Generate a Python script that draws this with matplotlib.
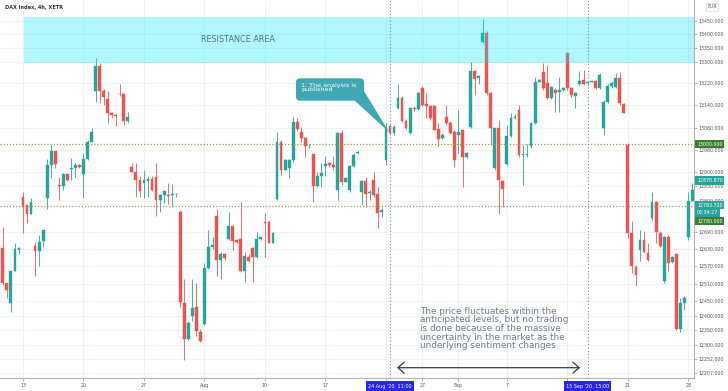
import numpy as np
import pandas as pd
import matplotlib
matplotlib.use('Agg')
import matplotlib.pyplot as plt
from matplotlib.patches import FancyBboxPatch, Polygon, Rectangle
from matplotlib.transforms import IdentityTransform
from matplotlib.ticker import FixedLocator, NullLocator, FuncFormatter, NullFormatter

# DAX 4h bars on XETR, three bars per trading day (last bar of 28 Sep still open)
days = pd.bdate_range('2020-07-09', '2020-09-28')
bar_times = [d + pd.Timedelta(hours=h) for d in days for h in (7, 11, 15)][:-1]

opens = [12640, 12635, 12511, 12442, 12553, 12628,
         12813, 12785, 12753, 12641, 12624, 12658, 12810, 12926, 12977, 12855,
         12851, 12893, 12913, 12914, 12926, 12894, 12946, 13010, 13194, 13284,
         13194, 13162, 13114, 13106, 13183, 13181, 13084, 12918, 12902, 12873,
         12863, 12870, 12876, 12884, 12802, 12820, 12820, 12818, 12822, 12761,
         12444, 12320, 12399, 12428, 12343, 12373, 12563, 12638, 12746, 12592,
         12613, 12664, 12710, 12660, 12664, 12553, 12603, 12632, 12603, 12664,
         12726, 12726, 12652, 12804, 13010, 12910, 12914, 12943, 13082, 13046,
         13021, 12993, 12964, 12851, 12887, 12922, 12932, 12926, 12837, 13040,
         12867, 12837, 12922, 12968, 12829, 12870, 12828, 12874, 12822, 12760,
         12943, 13066, 13040, 13130, 13166, 13085, 13040, 13130, 13127, 13203,
         13145, 13139, 13137, 13054, 13021, 13100, 13078, 13046, 13034, 13050,
         12955, 13063, 13264, 13239, 13374, 13407, 13185, 12914, 13058, 12870,
         12929, 13031, 13094, 13124, 12962, 12962, 12993, 13076, 13227, 13261,
         13221, 13168, 13197, 13190, 13197, 13330, 13203, 13174, 13219, 13233,
         13221, 13227, 13230, 13203, 13058, 13153, 13210, 13207, 13239, 13145,
         12998, 12687, 12569, 12627, 12662, 12617, 12738, 12796, 12687, 12520,
         12673, 12584, 12613, 12354, 12445, 12673, 12800]
highs = [12646, 12708, 12511, 12553, 12650, 12638,
         12831, 12785, 12808, 12656, 12679, 12697, 12946, 12998, 12977, 12884,
         12898, 12896, 12952, 12932, 12929, 12968, 13016, 13058, 13312, 13294,
         13199, 13191, 13118, 13112, 13217, 13185, 13118, 12932, 12932, 12887,
         12908, 12887, 12887, 12932, 12823, 12837, 12861, 12859, 12827, 12765,
         12525, 12380, 12525, 12511, 12354, 12581, 12697, 12673, 12769, 12620,
         12616, 12758, 12713, 12664, 12796, 12620, 12613, 12638, 12691, 12676,
         12756, 12730, 12691, 13046, 13016, 12949, 12949, 13100, 13094, 13062,
         13025, 13000, 12966, 12902, 12935, 12958, 12938, 12958, 13046, 13052,
         12884, 12926, 12968, 12977, 12873, 12884, 12837, 12902, 12849, 12772,
         13076, 13076, 13070, 13219, 13174, 13090, 13132, 13137, 13190, 13210,
         13187, 13142, 13142, 13076, 13040, 13142, 13085, 13051, 13123, 13052,
         12974, 13300, 13268, 13250, 13456, 13411, 13188, 13058, 13088, 12873,
         13070, 13112, 13108, 13142, 12998, 13000, 13082, 13245, 13236, 13294,
         13288, 13210, 13203, 13245, 13207, 13336, 13207, 13190, 13264, 13269,
         13230, 13232, 13233, 13257, 13160, 13219, 13228, 13257, 13261, 13148,
         13003, 12729, 12575, 12697, 12694, 12652, 12831, 12800, 12694, 12676,
         12680, 12606, 12617, 12462, 12467, 12831, 12861]
lows = [12630, 12505, 12459, 12414, 12553, 12613,
        12687, 12720, 12753, 12536, 12572, 12638, 12769, 12879, 12914, 12802,
        12837, 12870, 12873, 12884, 12914, 12808, 12944, 13010, 13153, 13148,
        13142, 13076, 13094, 13066, 13173, 13070, 13078, 12900, 12813, 12813,
        12808, 12811, 12835, 12746, 12761, 12792, 12788, 12778, 12813, 12431,
        12248, 12316, 12380, 12329, 12309, 12368, 12560, 12629, 12536, 12525,
        12592, 12660, 12627, 12652, 12550, 12517, 12586, 12517, 12600, 12660,
        12603, 12650, 12650, 12801, 12891, 12907, 12879, 12938, 13049, 13010,
        12954, 12988, 12796, 12848, 12848, 12887, 12920, 12910, 12802, 12855,
        12867, 12831, 12918, 12964, 12785, 12778, 12802, 12811, 12702, 12742,
        12926, 13037, 13033, 13127, 13082, 13054, 13037, 13120, 13124, 13137,
        13094, 13088, 13050, 12993, 13019, 13070, 13037, 12918, 12968, 12849,
        12952, 13060, 13178, 13218, 13370, 13178, 12998, 12910, 12753, 12778,
        12926, 13028, 13090, 12955, 12855, 12955, 12987, 13072, 13224, 13197,
        13162, 13164, 13118, 13118, 13194, 13197, 13172, 13132, 13216, 13216,
        13214, 13224, 13200, 13200, 13034, 13150, 13205, 13204, 13142, 13112,
        12667, 12546, 12502, 12590, 12617, 12590, 12732, 12650, 12638, 12513,
        12553, 12580, 12350, 12343, 12419, 12662, 12797]
closes = [12636, 12511, 12488, 12553, 12629, 12632,
          12778, 12753, 12796, 12624, 12656, 12695, 12926, 12977, 12929, 12851,
          12893, 12873, 12915, 12926, 12918, 12946, 13010, 13046, 13284, 13191,
          13171, 13114, 13105, 13102, 13181, 13085, 13100, 12902, 12873, 12835,
          12873, 12876, 12837, 12802, 12820, 12833, 12816, 12823, 12823, 12448,
          12320, 12376, 12425, 12346, 12312, 12563, 12638, 12644, 12592, 12613,
          12598, 12710, 12659, 12655, 12553, 12606, 12589, 12603, 12664, 12673,
          12722, 12652, 12687, 13010, 12910, 12943, 12943, 13082, 13054, 13021,
          12993, 12995, 12851, 12887, 12898, 12929, 12926, 12918, 13040, 12867,
          12879, 12922, 12961, 12974, 12870, 12823, 12830, 12820, 12756, 12767,
          13063, 13042, 13063, 13166, 13085, 13058, 13130, 13127, 13185, 13142,
          13137, 13094, 13052, 13019, 13034, 13076, 13042, 12943, 13046, 12955,
          12970, 13264, 13235, 13246, 13407, 13185, 13058, 13058, 12873, 12840,
          13031, 13094, 13100, 12961, 12966, 12966, 13076, 13227, 13233, 13203,
          13166, 13207, 13187, 13197, 13203, 13203, 13178, 13185, 13230, 13219,
          13224, 13230, 13203, 13251, 13153, 13210, 13221, 13239, 13148, 13114,
          12687, 12572, 12540, 12662, 12620, 12592, 12796, 12691, 12641, 12673,
          12581, 12603, 12354, 12442, 12462, 12800, 12837]

# axis labels (24 Aug and 14 Sep sit under the marker boxes, grid line only)
tick_days = ['2020-07-13', '2020-07-20', '2020-07-27', '2020-08-03', '2020-08-10', '2020-08-17',
             '2020-08-24', '2020-08-27', '2020-09-01', '2020-09-07', '2020-09-14', '2020-09-21', '2020-09-28']
tick_names = ['13', '20', '27', 'Aug', '10', '17', '', '27', 'Sep', '7', '', '21', '28']
price_ticks = [13450, 13400, 13350, 13300, 13220, 13140, 13060, 12980, 12900, 12850, 12800,
               12690, 12630, 12570, 12510, 12450, 12400, 12350, 12300, 12252, 12207]

resistance = (13295, 13465)
levels = [13000, 12780]
markers = [('2020-08-24 11:00', "24 Aug '20  11:00"), ('2020-09-15 15:00', "15 Sep '20  15:00")]
last_labels = [(12870.870, '12870.870'), (12783.720, '12783.720')]

UP, DOWN = '#26a69a', '#ef5350'
W, H = 728, 391

def fp(x, y):  # image pixel (top-left origin) -> figure pixels
    return (x, H - y)

fig = plt.figure(figsize=(W / 100, H / 100), dpi=100)
ax = fig.add_axes([0, 13 / H, 694 / W, 378 / H])

o = np.array(opens); h = np.array(highs); l = np.array(lows); c = np.array(closes)
xs = np.arange(len(bar_times))
cols = np.where(c >= o, UP, DOWN)
ax.vlines(xs, l, h, colors=cols, lw=0.6, zorder=2)
ax.bar(xs, np.abs(c - o), bottom=np.minimum(o, c), width=0.7, color=cols,
       edgecolor=cols, linewidth=0.3, zorder=2)

ax.set_yscale('log')
ax.set_ylim(12188.5, 13528)
ax.set_xlim(0.3, 172.4)

# resistance band, drawn over the candles
x_band = xs[bar_times.index(pd.Timestamp('2020-07-13 07:00'))] + 0.25
ax.add_patch(Rectangle((x_band, resistance[0]), 200, resistance[1] - resistance[0],
                       color='#00e5ff', alpha=0.3, lw=0, zorder=3))
fig.text(237.5 / W, 1 - 39 / H, 'RESISTANCE AREA', fontsize=5.9, color='#527683',
         ha='center', va='center')

for lv in levels:
    ax.axhline(lv, color='#9a9a55', lw=0.9, ls=(0, (1, 1.5)), zorder=3)

mark_pos = [bar_times.index(pd.Timestamp(t)) for t, _ in markers]
for mp, (_, lab) in zip(mark_pos, markers):
    ax.axvline(mp, color='#7d83d8', lw=0.8, ls=(0, (1, 2)), zorder=3)
    ax.annotate(lab, xy=(mp, 0), xycoords=('data', 'axes fraction'), xytext=(0, -5.8),
                textcoords='offset points', ha='center', va='center', fontsize=3.5,
                color='white', annotation_clip=False, zorder=6,
                bbox=dict(boxstyle='square,pad=0.45', fc='#2626ee', ec='none'))

# ticks and grid
tick_pos = [bar_times.index(pd.Timestamp(d) + pd.Timedelta(hours=7)) for d in tick_days]
ax.set_xticks(tick_pos)
ax.set_xticklabels(tick_names)
ax.yaxis.tick_right()
ax.yaxis.set_major_locator(FixedLocator(price_ticks))
ax.yaxis.set_minor_locator(NullLocator())
ax.yaxis.set_minor_formatter(NullFormatter())
ax.yaxis.set_major_formatter(FuncFormatter(lambda v, p: f'{v:.3f}'))
ax.tick_params(axis='both', labelsize=3.4, labelcolor='#555555', color='#999999',
               length=2, width=0.5, pad=1.5)
ax.grid(True, color='#edf0f5', lw=0.6)
ax.set_axisbelow(True)
for s in ['top', 'left']:
    ax.spines[s].set_visible(False)
for s in ['right', 'bottom']:
    ax.spines[s].set_color('#b3b3b3')
    ax.spines[s].set_linewidth(0.8)

# price scale labels
def scale_label(val, text, fc, dy=0):
    ax.annotate(text, xy=(1, val), xycoords=('axes fraction', 'data'), xytext=(2.2, dy),
                textcoords='offset points', ha='left', va='center', fontsize=3.4,
                color='white', annotation_clip=False, zorder=6,
                bbox=dict(boxstyle='square,pad=0.35', fc=fc, ec='none'))

scale_label(levels[0], f'{levels[0]:.3f}', '#3a7d2c')
scale_label(levels[1], f'{levels[1]:.3f}', '#3a7d2c', dy=-10.8)
scale_label(last_labels[0][0], last_labels[0][1], UP)
scale_label(last_labels[1][0], last_labels[1][1], UP)
scale_label(last_labels[1][0], '03:34:27', UP, dy=-5.2)

fig.text(5 / W, 1 - 7 / H, 'DAX Index, 4h, XETR', fontsize=3.6, weight='bold',
         color='#333333', va='center')
fig.text(712 / W, 1 - 7 / H, 'EUR', fontsize=3.3, color='#555555', ha='center', va='center',
         bbox=dict(boxstyle='square,pad=0.3', fc='white', ec='#cccccc', lw=0.4))

# callout
idt = IdentityTransform()
box = FancyBboxPatch(fp(296, 100.7), 68, 22.4, boxstyle='round,pad=0,rounding_size=4',
                     transform=idt, fc='#3fa8b4', ec='none', zorder=7, clip_on=False)
wedge = Polygon([fp(354, 100), fp(364, 91), fp(389, 132)], closed=True,
                transform=idt, fc='#3fa8b4', ec='none', zorder=7, clip_on=False)
fig.add_artist(box)
fig.add_artist(wedge)
fig.text(301 / W, 1 - 87.5 / H, '1. The analysis is\npublished', fontsize=4.6, color='white',
         va='center', ha='left', linespacing=0.95, zorder=8)

fig.text(420 / W, 1 - 328.5 / H,
         'The price fluctuates within the\nanticipated levels, but no trading\n'
         'is done because of the massive\nuncertainty in the market as the\n'
         'underlying sentiment changes',
         fontsize=6.4, color='#717d8c', ha='left', va='center', linespacing=0.94)

ax.annotate('', xy=fp(580, 367.7), xytext=fp(397, 367.7), xycoords='figure pixels',
            textcoords='figure pixels',
            arrowprops=dict(arrowstyle='<->,head_length=0.45,head_width=0.4', color='#3a3a3a',
                            lw=0.9, shrinkA=0, shrinkB=0))

fig.savefig('out.png', dpi=100)
